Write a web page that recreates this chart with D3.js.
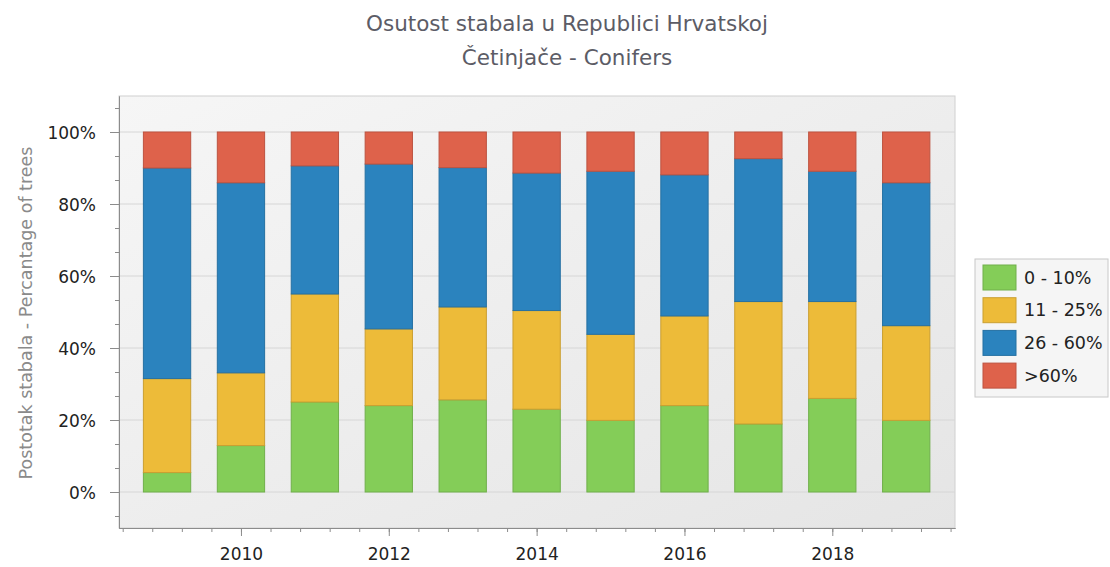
<!DOCTYPE html>
<html>
<head>
<meta charset="utf-8">
<script src="https://cdn.jsdelivr.net/npm/d3@7"></script>
<style>
  body { margin: 0; background: #fff; }
  svg text { font-family: "DejaVu Sans", Verdana, sans-serif; }
</style>
</head>
<body>
<div id="chart"></div>
<script>
// data
var years = [2009, 2010, 2011, 2012, 2013, 2014, 2015, 2016, 2017, 2018, 2019];
var seriesNames = ["0 - 10%", "11 - 25%", "26 - 60%", ">60%"];
var seriesColors = ["#84cd58", "#edbb39", "#2b83be", "#de624b"];
var low = [5.4, 12.9, 25.0, 24.0, 25.6, 23.0, 19.9, 24.0, 18.9, 26.0, 19.9];
var mild = [26.1, 20.2, 30.0, 21.3, 25.8, 27.4, 23.9, 24.9, 34.0, 26.9, 26.3];
var moderate = [58.5, 52.8, 35.6, 45.8, 38.7, 38.2, 45.3, 39.2, 39.7, 36.2, 39.7];
var severe = [10.0, 14.1, 9.4, 8.9, 9.9, 11.4, 10.9, 11.9, 7.4, 10.9, 14.1];
var yMajor = [0, 20, 40, 60, 80, 100];
var xMajor = [2010, 2012, 2014, 2016, 2018];

var W = 1110, H = 567;
var plot = { left: 119, right: 955, top: 96, bottom: 528 };

var svg = d3.select("#chart").append("svg")
  .attr("width", W)
  .attr("height", H);

var x = d3.scaleLinear().domain([2008.35, 2019.66]).range([plot.left, plot.right]);
var y = d3.scaleLinear().domain([-10, 110]).range([plot.bottom, plot.top]);
var barW = x(2009.64) - x(2009);

// background of plot area
var defs = svg.append("defs");
var grad = defs.append("linearGradient").attr("id", "bg")
  .attr("x1", "0").attr("y1", "0").attr("x2", "1").attr("y2", "1");
grad.append("stop").attr("offset", "0%").attr("stop-color", "#f6f6f6");
grad.append("stop").attr("offset", "100%").attr("stop-color", "#e5e5e5");

svg.append("rect")
  .attr("x", plot.left).attr("y", plot.top)
  .attr("width", plot.right - plot.left).attr("height", plot.bottom - plot.top)
  .attr("fill", "url(#bg)")
  .attr("stroke", "#d0d0d0");

// gridlines
svg.append("g").selectAll("line").data(yMajor).join("line")
  .attr("x1", plot.left).attr("x2", plot.right)
  .attr("y1", function(d){ return y(d); }).attr("y2", function(d){ return y(d); })
  .attr("stroke", "#d6d6d6");

// stacked bars
var table = years.map(function(yr, i){
  return { year: yr, a: low[i], b: mild[i], c: moderate[i], d: severe[i] };
});
var stack = d3.stack().keys(["a", "b", "c", "d"])(table);

svg.append("g").selectAll("g").data(stack).join("g")
  .attr("fill", function(d, i){ return seriesColors[i]; })
  .attr("stroke", function(d, i){ return d3.color(seriesColors[i]).darker(0.45); })
  .selectAll("rect").data(function(d){ return d; }).join("rect")
    .attr("x", function(d){ return x(d.data.year) - barW / 2; })
    .attr("width", barW)
    .attr("y", function(d){ return y(d[1]); })
    .attr("height", function(d){ return y(d[0]) - y(d[1]); });

// y axis
var yMinor = d3.range(-1, 17).map(function(k){ return k * 20 / 3; });
var gyMinor = svg.append("g").attr("transform", "translate(" + plot.left + ",0)")
  .call(d3.axisLeft(y).tickValues(yMinor).tickSize(4).tickSizeOuter(0).tickFormat(""));
var gy = svg.append("g").attr("transform", "translate(" + plot.left + ",0)")
  .call(d3.axisLeft(y).tickValues(yMajor).tickSize(9).tickSizeOuter(0).tickPadding(14)
    .tickFormat(function(d){ return d + "%"; }));

// x axis
var xMinor = d3.range(0, 29).map(function(k){ return 2008.4 + k * 0.4; });
var gxMinor = svg.append("g").attr("transform", "translate(0," + plot.bottom + ")")
  .call(d3.axisBottom(x).tickValues(xMinor).tickSize(4).tickSizeOuter(0).tickFormat(""));
var gx = svg.append("g").attr("transform", "translate(0," + plot.bottom + ")")
  .call(d3.axisBottom(x).tickValues(xMajor).tickSize(8).tickSizeOuter(0).tickPadding(12)
    .tickFormat(d3.format("d")));

[gyMinor, gy, gxMinor, gx].forEach(function(g){
  g.selectAll("path").attr("stroke", "#8c8c8c");
  g.selectAll("line").attr("stroke", "#8c8c8c");
  g.selectAll("text").attr("fill", "#222").style("font-size", "17px");
});
gy.selectAll("text").attr("dy", "0.36em");

// titles
svg.append("text").attr("x", 567).attr("y", 31)
  .attr("text-anchor", "middle").attr("fill", "#5c5c66").style("font-size", "21.5px")
  .text("Osutost stabala u Republici Hrvatskoj");
svg.append("text").attr("x", 567).attr("y", 65)
  .attr("text-anchor", "middle").attr("fill", "#5c5c66").style("font-size", "21.5px")
  .text("Četinjače - Conifers");

svg.append("text")
  .attr("transform", "translate(32,313) rotate(-90)")
  .attr("text-anchor", "middle").attr("fill", "#8a8a8a").style("font-size", "17.5px")
  .text("Postotak stabala - Percantage of trees");

// legend
var legend = svg.append("g").attr("transform", "translate(975,259)");
legend.append("rect").attr("width", 133).attr("height", 138)
  .attr("fill", "#f5f5f5").attr("stroke", "#c8c8c8");
var item = legend.selectAll("g.item").data(seriesNames).join("g")
  .attr("class", "item")
  .attr("transform", function(d, i){ return "translate(8," + (6 + i * 32.7) + ")"; });
item.append("rect").attr("width", 33).attr("height", 25)
  .attr("fill", function(d, i){ return seriesColors[i]; })
  .attr("stroke", function(d, i){ return d3.color(seriesColors[i]).darker(0.45); });
item.append("text").attr("x", 41).attr("y", 12.5).attr("dy", "0.36em")
  .attr("fill", "#222").style("font-size", "17.5px")
  .text(function(d){ return d; });
</script>
</body>
</html>
